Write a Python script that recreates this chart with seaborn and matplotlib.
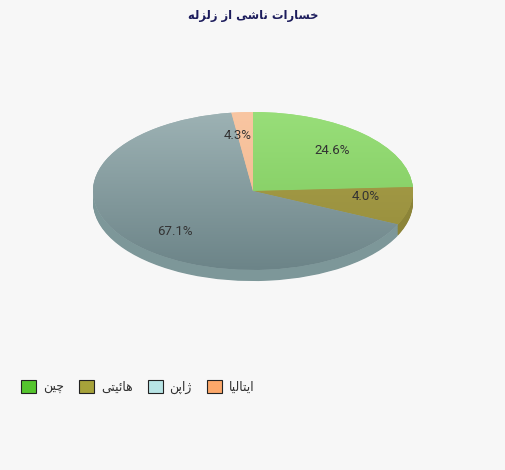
import matplotlib
matplotlib.use("Agg")
import matplotlib.pyplot as plt
import seaborn as sns
import numpy as np
from matplotlib.patches import Patch
import matplotlib.colors as mcolors

# ---------------- data ----------------
title = "خسارات ناشی از زلزله"
categories = ["چین", "هائیتی", "ژاپن", "ایتالیا"]
values = [24.6, 4.0, 67.1, 4.3]
top_colors = ["#98de79", "#aaa14c", "#9db2b4", "#f9c6a2"]
bottom_colors = ["#7cc65a", "#958c3a", "#6c8488", "#eeb489"]
side_colors = ["#72b452", "#8c8438", "#7d9799", "#e0a880"]
legend_colors = ["#55c52e", "#a6a23a", "#b8e4e5", "#fca86a"]

# ---------------- minimal Persian shaping for matplotlib ----------------
FORMS = {
    "ا": ("\uFE8D", "\uFE8E", None, None),
    "ت": ("\uFE95", "\uFE96", "\uFE97", "\uFE98"),
    "خ": ("\uFEA5", "\uFEA6", "\uFEA7", "\uFEA8"),
    "س": ("\uFEB1", "\uFEB2", "\uFEB3", "\uFEB4"),
    "ش": ("\uFEB5", "\uFEB6", "\uFEB7", "\uFEB8"),
    "ر": ("\uFEAD", "\uFEAE", None, None),
    "ز": ("\uFEAF", "\uFEB0", None, None),
    "ژ": ("\uFB8A", "\uFB8B", None, None),
    "ل": ("\uFEDD", "\uFEDE", "\uFEDF", "\uFEE0"),
    "ن": ("\uFEE5", "\uFEE6", "\uFEE7", "\uFEE8"),
    "ه": ("\uFEE9", "\uFEEA", "\uFEEB", "\uFEEC"),
    "ی": ("\uFEEF", "\uFEF0", "\uFEF3", "\uFEF4"),
    "ئ": ("\uFE89", "\uFE8A", "\uFE8B", "\uFE8C"),
    "چ": ("\uFB7A", "\uFB7B", "\uFB7C", "\uFB7D"),
    "پ": ("\uFB56", "\uFB57", "\uFB58", "\uFB59"),
}


def shape(text):
    out = []
    n = len(text)
    for i, ch in enumerate(text):
        if ch not in FORMS:
            out.append(ch)
            continue
        iso, fin, ini, med = FORMS[ch]
        prev = text[i - 1] if i > 0 else None
        nxt = text[i + 1] if i < n - 1 else None
        join_prev = prev in FORMS and FORMS[prev][2] is not None
        join_next = ini is not None and nxt in FORMS
        if join_prev and join_next:
            out.append(med)
        elif join_prev:
            out.append(fin)
        elif join_next:
            out.append(ini)
        else:
            out.append(iso)
    return "".join(out)[::-1]


sns.set_theme(style="white")
plt.rcParams["font.family"] = ["DejaVu Sans"]

BG = "#f7f7f7"
W, H = 506, 470
fig = plt.figure(figsize=(W / 100, H / 100), dpi=100, facecolor=BG)

# pie axes: ellipse center (253,191) px, rx=160, ry=79
rx, ry = 160, 79
cx, cy = 253, 191
xl, yl = 1.1, 1.5
ax = fig.add_axes([(cx - rx * xl) / W, (H - cy - ry * yl) / H,
                   2 * rx * xl / W, 2 * ry * yl / H])
ax.set_facecolor(BG)

# slice boundaries are true angles on screen (clockwise from 12 o'clock);
# convert them to ellipse-parameter angles so the squashed pie matches
vals = np.array(values, dtype=float)
theta = np.radians(np.concatenate([[0], np.cumsum(vals) / vals.sum() * 360]))
raw = np.arctan2(ry * np.sin(theta), rx * np.cos(theta))
phi = theta + np.angle(np.exp(1j * (raw - theta)))
draw_vals = np.clip(np.diff(phi), 0, None)

depth = 0.14
steps = 16
for k in range(steps, 0, -1):
    ax.pie(draw_vals, colors=side_colors, startangle=90, counterclock=False,
           center=(0, -depth * k / steps), radius=1.0,
           wedgeprops=dict(linewidth=0))

wedges, _ = ax.pie(draw_vals, colors=top_colors, startangle=90,
                   counterclock=False, radius=1.0,
                   wedgeprops=dict(linewidth=0))

# vertical lighting gradient on the top face
for w, c1, c2 in zip(wedges, top_colors, bottom_colors):
    a = np.array(mcolors.to_rgb(c1))
    b = np.array(mcolors.to_rgb(c2))
    t = np.linspace(0, 1, 128)[:, None]
    grad = (a * (1 - t) + b * t)[:, None, :]
    im = ax.imshow(grad, extent=(-1, 1, -1, 1), aspect="auto",
                   interpolation="bilinear", zorder=w.get_zorder() + 0.1)
    im.set_clip_path(w)

# percentage labels at the middle of each share
mid = np.radians((np.cumsum(vals) - vals / 2) / vals.sum() * 360)
for m, v in zip(mid, vals):
    ax.text(0.71 * np.sin(m), 0.71 * np.cos(m), f"{v:.1f}%",
            ha="center", va="center", fontsize=9.5, color="#333333",
            family="Roboto", zorder=10)

ax.set_aspect("auto")
ax.set_xlim(-xl, xl)
ax.set_ylim(-yl, yl)
ax.axis("off")

fig.text(0.5, 1 - 16 / H, shape(title), ha="center", va="center",
         fontsize=8.3, fontweight="bold", color="#1c1c5c")

handles = [Patch(facecolor=legend_colors[i], edgecolor="#222222", linewidth=0.8)
           for i in range(len(categories))]
fig.legend(handles, [shape(c) for c in categories], ncol=4,
           loc="center left", bbox_to_anchor=(10 / W, 1 - 387 / H),
           frameon=False, fontsize=9, handlelength=1.2, handleheight=1.2,
           handletextpad=0.55, columnspacing=1.2, labelcolor="#333333")

fig.savefig("out.png", dpi=100, facecolor=BG)
